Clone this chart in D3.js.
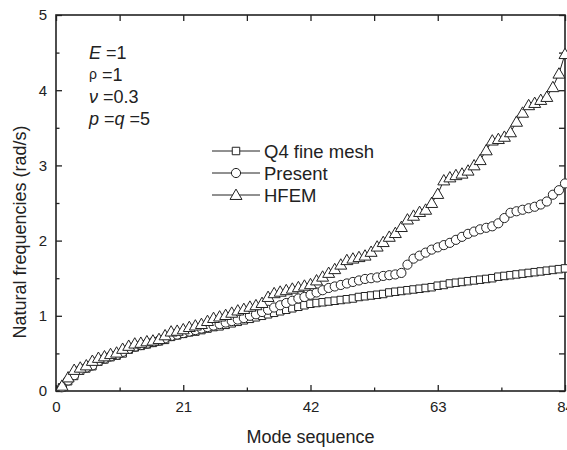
<!DOCTYPE html>
<html>
<head>
<meta charset="utf-8">
<script src="https://cdn.jsdelivr.net/npm/d3@7"></script>
<style>
  body { margin: 0; background: #fff; }
  svg text { font-family: "Liberation Sans", Arial, sans-serif; fill: #222; }
</style>
</head>
<body>
<div id="chart"></div>
<script>

// mode numbers
var modes = [
   1,  2,  3,  4,  5,  6,  7,  8,  9, 10, 11, 12, 13, 14, 15, 16, 17, 18, 19, 20, 21,
  22, 23, 24, 25, 26, 27, 28, 29, 30, 31, 32, 33, 34, 35, 36, 37, 38, 39, 40, 41, 42,
  43, 44, 45, 46, 47, 48, 49, 50, 51, 52, 53, 54, 55, 56, 57, 58, 59, 60, 61, 62, 63,
  64, 65, 66, 67, 68, 69, 70, 71, 72, 73, 74, 75, 76, 77, 78, 79, 80, 81, 82, 83, 84
];

// Q4 fine mesh
var q4Fine = [
  0.05, 0.13, 0.20, 0.27, 0.30, 0.33, 0.39, 0.42, 0.45, 0.47, 0.50, 0.55, 0.58, 0.60, 0.62, 0.64, 0.66, 0.68, 0.72, 0.74, 0.76,
  0.78, 0.79, 0.81, 0.83, 0.85, 0.86, 0.88, 0.90, 0.92, 0.94, 0.96, 0.98, 1.00, 1.02, 1.04, 1.06, 1.08, 1.10, 1.12, 1.14, 1.16,
  1.17, 1.18, 1.19, 1.20, 1.21, 1.22, 1.23, 1.25, 1.26, 1.27, 1.28, 1.29, 1.31, 1.32, 1.33, 1.34, 1.35, 1.36, 1.37, 1.38, 1.40,
  1.41, 1.43, 1.44, 1.45, 1.46, 1.47, 1.48, 1.49, 1.50, 1.52, 1.53, 1.54, 1.55, 1.56, 1.57, 1.58, 1.59, 1.60, 1.61, 1.62, 1.63
];

// Present
var present = [
  0.05, 0.14, 0.21, 0.28, 0.31, 0.34, 0.40, 0.43, 0.46, 0.48, 0.52, 0.56, 0.59, 0.61, 0.63, 0.65, 0.67, 0.70, 0.73, 0.75, 0.77,
  0.79, 0.81, 0.83, 0.85, 0.87, 0.89, 0.91, 0.93, 0.95, 0.97, 1.00, 1.02, 1.05, 1.08, 1.11, 1.14, 1.17, 1.20, 1.23, 1.25, 1.28,
  1.31, 1.34, 1.37, 1.39, 1.41, 1.43, 1.45, 1.47, 1.49, 1.50, 1.51, 1.53, 1.54, 1.55, 1.57, 1.68, 1.76, 1.80, 1.84, 1.88, 1.91,
  1.94, 1.97, 2.01, 2.05, 2.09, 2.12, 2.15, 2.17, 2.19, 2.23, 2.30, 2.37, 2.39, 2.41, 2.43, 2.45, 2.48, 2.52, 2.61, 2.67, 2.76
];

// HFEM
var hfem = [
  0.07, 0.18, 0.28, 0.31, 0.34, 0.40, 0.44, 0.46, 0.49, 0.51, 0.56, 0.60, 0.63, 0.64, 0.66, 0.67, 0.69, 0.74, 0.79, 0.80, 0.82,
  0.85, 0.87, 0.89, 0.93, 0.97, 0.99, 1.01, 1.04, 1.07, 1.09, 1.12, 1.14, 1.17, 1.25, 1.30, 1.32, 1.34, 1.36, 1.38, 1.40, 1.42,
  1.47, 1.52, 1.57, 1.62, 1.68, 1.74, 1.76, 1.78, 1.80, 1.85, 1.92, 1.98, 2.05, 2.10, 2.18, 2.28, 2.33, 2.38, 2.41, 2.50, 2.62,
  2.80, 2.84, 2.87, 2.89, 2.93, 3.00, 3.07, 3.20, 3.33, 3.35, 3.38, 3.44, 3.58, 3.70, 3.80, 3.83, 3.87, 3.91, 4.04, 4.22, 4.48
];

var seriesNames = ['Q4 fine mesh', 'Present', 'HFEM'];
var xTicks = [0, 21, 42, 63, 84];
var xMinorTicks = [10.5, 31.5, 52.5, 73.5];
var yTicks = [0, 1, 2, 3, 4, 5];
var yMinorTicks = [0.5, 1.5, 2.5, 3.5, 4.5];


var width = 567
  , height = 450
  , margin = { top: 15, right: 2, bottom: 59, left: 56 };

var svg = d3.select('#chart').append('svg')
    .attr('width', width)
    .attr('height', height);

var x = d3.scaleLinear()
    .domain([0, 84])
    .range([margin.left, width - margin.right]);

var y = d3.scaleLinear()
    .domain([0, 5])
    .range([height - margin.bottom, margin.top]);


/**
 * Axes: ticks point inward on all four sides.
 */
function styleAxis(g) {
  g.select('.domain').remove();
  g.selectAll('line').attr('stroke', '#222').attr('stroke-width', 1.3);
  g.selectAll('text').attr('font-size', 15).attr('fill', '#222');
}

svg.append('g')
    .attr('transform', 'translate(0,' + y(0) + ')')
    .call(d3.axisBottom(x).tickValues(xTicks).tickSize(-6).tickPadding(10).tickFormat(d3.format('d')))
    .call(styleAxis);

svg.append('g')
    .attr('transform', 'translate(0,' + y(0) + ')')
    .call(d3.axisBottom(x).tickValues(xMinorTicks).tickSize(-3.5).tickFormat(''))
    .call(styleAxis);

svg.append('g')
    .attr('transform', 'translate(0,' + y(5) + ')')
    .call(d3.axisTop(x).tickValues(xTicks.concat(xMinorTicks)).tickSize(-6).tickFormat(''))
    .call(styleAxis);

svg.append('g')
    .attr('transform', 'translate(' + x(0) + ',0)')
    .call(d3.axisLeft(y).tickValues(yTicks).tickSize(-6).tickPadding(9).tickFormat(d3.format('d')))
    .call(styleAxis);

svg.append('g')
    .attr('transform', 'translate(' + x(0) + ',0)')
    .call(d3.axisLeft(y).tickValues(yMinorTicks).tickSize(-3.5).tickFormat(''))
    .call(styleAxis);

svg.append('g')
    .attr('transform', 'translate(' + x(84) + ',0)')
    .call(d3.axisRight(y).tickValues(yTicks.concat(yMinorTicks)).tickSize(-6).tickFormat(''))
    .call(styleAxis);

// frame
svg.append('rect')
    .attr('x', x(0))
    .attr('y', y(5))
    .attr('width', x(84) - x(0))
    .attr('height', y(0) - y(5))
    .attr('fill', 'none')
    .attr('stroke', '#222')
    .attr('stroke-width', 1.6);


/**
 * Marker shapes
 */
var symbols = [
    d3.symbol().type(d3.symbolSquare).size(56)
  , d3.symbol().type(d3.symbolCircle).size(66)
  , d3.symbol().type(d3.symbolTriangle).size(62)
];

var allSeries = [q4Fine, present, hfem];

var line = d3.line()
    .x(function(d, i) { return x(modes[i]); })
    .y(function(d) { return y(d); });

allSeries.forEach(function(values, s) {
  svg.append('path')
      .datum(values)
      .attr('fill', 'none')
      .attr('stroke', '#222')
      .attr('stroke-width', 1)
      .attr('d', line);
});

allSeries.forEach(function(values, s) {
  svg.append('g').selectAll('path')
      .data(values)
    .enter().append('path')
      .attr('transform', function(d, i) {
        return 'translate(' + x(modes[i]) + ',' + (y(d) + (s === 2 ? 1 : 0)) + ')';
      })
      .attr('d', symbols[s]())
      .attr('fill', '#fff')
      .attr('stroke', '#222')
      .attr('stroke-width', 1);
});


/**
 * Legend
 */
var legend = svg.append('g')
    .attr('transform', 'translate(212,151)');

seriesNames.forEach(function(name, i) {
  var row = legend.append('g').attr('transform', 'translate(0,' + i * 22 + ')');
  row.append('line')
      .attr('x1', 0).attr('x2', 48)
      .attr('stroke', '#222').attr('stroke-width', 1);
  row.append('path')
      .attr('transform', 'translate(24,' + (i === 2 ? 1 : 0) + ')')
      .attr('d', symbols[i]())
      .attr('fill', '#fff')
      .attr('stroke', '#222');
  row.append('text')
      .attr('x', 52)
      .attr('y', 6.5)
      .attr('font-size', 18.5)
      .text(name);
});


/**
 * Material parameters note
 */
var note = svg.append('g')
    .attr('transform', 'translate(89,0)')
    .attr('font-size', 18);

var t1 = note.append('text').attr('y', 59);
t1.append('tspan').attr('font-style', 'italic').text('E');
t1.append('tspan').text(' =1');

var t2 = note.append('text').attr('y', 81);
t2.append('tspan').attr('font-size', 14).attr('dy', -2).text('\u03C1');
t2.append('tspan').attr('dy', 2).text(' =1');

var t3 = note.append('text').attr('y', 103);
t3.append('tspan').attr('font-style', 'italic').text('\u03BD');
t3.append('tspan').text(' =0.3');

var t4 = note.append('text').attr('y', 125);
t4.append('tspan').attr('font-style', 'italic').text('p');
t4.append('tspan').text(' =');
t4.append('tspan').attr('font-style', 'italic').text('q');
t4.append('tspan').text(' =5');


// axis titles
svg.append('text')
    .attr('x', (x(0) + x(84)) / 2)
    .attr('y', 443)
    .attr('text-anchor', 'middle')
    .attr('font-size', 18)
    .text('Mode sequence');

svg.append('text')
    .attr('transform', 'translate(26,232) rotate(-90)')
    .attr('text-anchor', 'middle')
    .attr('font-size', 18)
    .text('Natural frequencies (rad/s)');

</script>
</body>
</html>
